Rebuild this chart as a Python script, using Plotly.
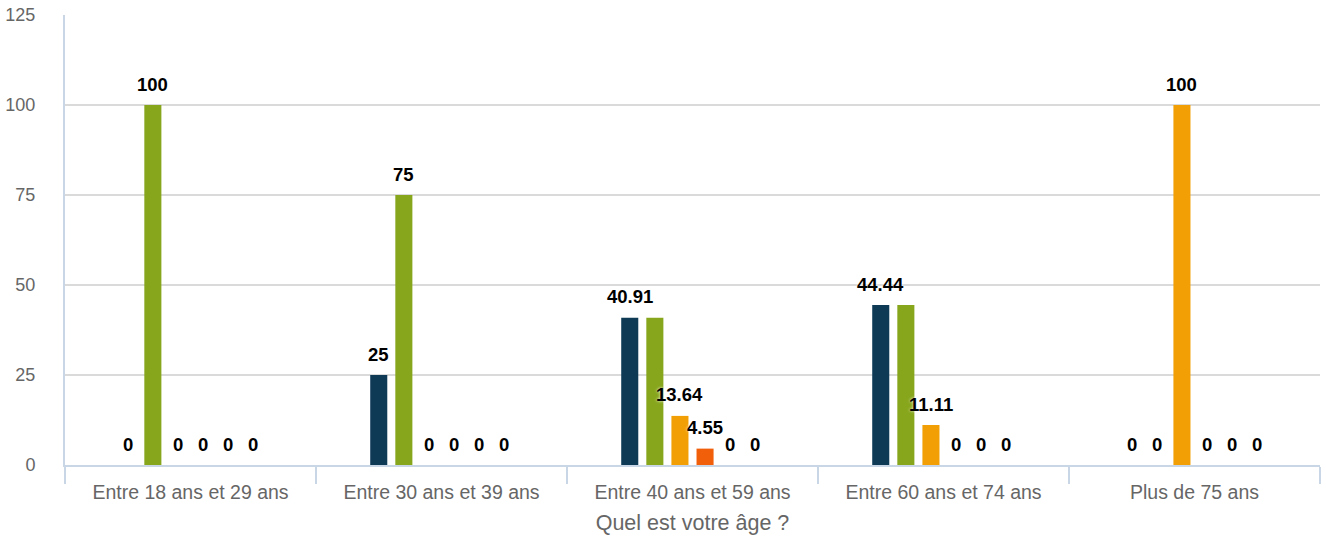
import plotly.graph_objects as go

categories = ["Entre 18 ans et 29 ans", "Entre 30 ans et 39 ans", "Entre 40 ans et 59 ans",
              "Entre 60 ans et 74 ans", "Plus de 75 ans"]
series_names = ["Réponse 1", "Réponse 2", "Réponse 3", "Réponse 4", "Réponse 5", "Réponse 6"]
series_values = [
    [0, 25, 40.91, 44.44, 0],
    [100, 75, 40.91, 44.44, 0],
    [0, 0, 13.64, 11.11, 100],
    [0, 0, 4.55, 0, 0],
    [0, 0, 0, 0, 0],
    [0, 0, 0, 0, 0],
]
colors = ["#0e3a56", "#87a61c", "#f29f05", "#f25f0a", "#7f8c8d", "#5b9bd5"]
y_ticks = [0, 25, 50, 75, 100, 125]

W, H = 1326, 544
ML, MR, MT, MB = 65, 6, 15, 79
BARGAP, BARGROUPGAP = 0.4, 0.32
LABEL_SIZE = 18.5
FONT = "Liberation Sans, Arial, Helvetica, sans-serif"

fig = go.Figure()
for name, vals, col in zip(series_names, series_values, colors):
    fig.add_trace(go.Bar(x=categories, y=vals, name=name, marker_color=col,
                         marker_line_width=0, showlegend=False, hoverinfo="x+y+name"))

# value labels, with collision hiding like the original renderer
n = len(series_names)
slot = (1 - BARGAP) / n
px_per_cat = (W - ML - MR) / len(categories)
annotations = []
for k, cat in enumerate(categories):
    shown = []
    for i in range(n):
        v = series_values[i][k]
        txt = f"{v:g}"
        xpos = k - (1 - BARGAP) / 2 + slot * (i + 0.5)
        wpx = len(txt) * 0.56 * LABEL_SIZE
        hide = False
        for (px, pv, pw) in shown:
            if pv == v and abs(xpos - px) * px_per_cat < (wpx + pw) / 2:
                hide = True
        if hide:
            continue
        shown.append((xpos, v, wpx))
        annotations.append(dict(x=xpos, y=v, xref="x", yref="y", text=f"<b>{txt}</b>",
                                showarrow=False, yshift=21, yanchor="middle",
                                font=dict(family=FONT, size=LABEL_SIZE, color="#000000",
                                          shadow="0px 0px 3px #ffffff")))

fig.update_layout(
    width=W, height=H,
    margin=dict(l=ML, r=MR, t=MT, b=MB, autoexpand=False),
    paper_bgcolor="white", plot_bgcolor="white",
    barmode="group", bargap=BARGAP, bargroupgap=BARGROUPGAP,
    font=dict(family=FONT, size=18, color="#666666"),
    annotations=annotations,
)
fig.update_xaxes(
    type="category", categoryorder="array", categoryarray=categories,
    showline=True, linecolor="#c9d6e6", linewidth=2,
    ticks="outside", tickson="boundaries", ticklen=17, tickwidth=2, tickcolor="#c9d6e6",
    tickfont=dict(size=19.5, color="#666666"), ticklabelstandoff=9,
    title=dict(text="Quel est votre âge ?", font=dict(size=21.5, color="#666666"), standoff=13),
    showgrid=False, automargin=False,
)
fig.update_yaxes(
    range=[0, 125], tickvals=y_ticks, ticktext=[str(t) for t in y_ticks],
    showgrid=True, gridcolor="#dadada", gridwidth=2,
    zeroline=False, showline=True, linecolor="#c9d6e6", linewidth=2,
    ticks="", ticklabelstandoff=24,
    tickfont=dict(size=18, color="#666666"), automargin=False,
)

fig.write_html("out.html", config={"displayModeBar": False},
               post_script="document.body.style.margin='0';")
